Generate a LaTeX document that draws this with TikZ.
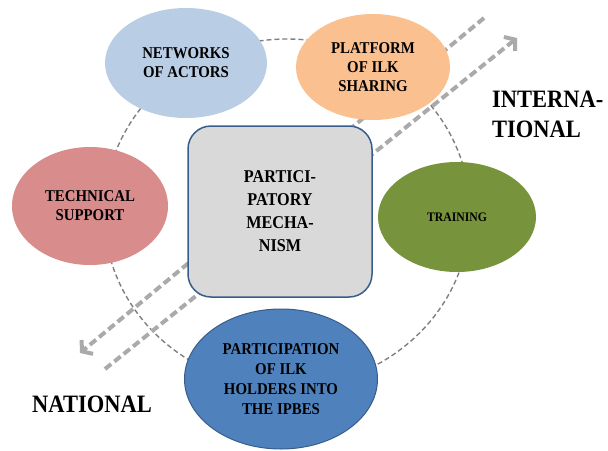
\documentclass[tikz,border=0pt]{standalone}
\usepackage{fontspec}
\setmainfont{Liberation Serif}[FakeStretch=0.9]
\usetikzlibrary{arrows.meta,shapes.geometric}

\definecolor{netblue}{RGB}{185,205,229}
\definecolor{platorange}{RGB}{250,192,144}
\definecolor{techpink}{RGB}{217,140,140}
\definecolor{traingreen}{RGB}{119,147,60}
\definecolor{partblue}{RGB}{79,129,189}
\definecolor{partedge}{RGB}{56,93,138}
\definecolor{boxgray}{RGB}{217,217,217}
\definecolor{ringgray}{RGB}{128,128,128}
\definecolor{flowgray}{RGB}{170,170,170}

\begin{document}
\begin{tikzpicture}[x=1pt, y=-1pt,
  bubble/.style={ellipse,inner sep=0pt,align=center,
    font=\fontsize{16.5}{19}\selectfont\bfseries},
  ring/.style={draw=ringgray,line width=1.4pt,dash pattern=on 5pt off 3pt},
  flow/.style={draw=flowgray,line width=4pt,dash pattern=on 8pt off 4pt,
    -{Straight Barb[length=7pt,width=18pt]}},
  level/.style={inner sep=0pt,align=left,font=\fontsize{25}{30}\selectfont\bfseries}]
  \useasboundingbox (0,0) rectangle (608,450);

  % dashed ring behind everything
  \coordinate (ctr) at (287,213);
  \draw[ring] (ctr) ellipse [x radius=183pt, y radius=174pt];

  % national <-> international flows
  \coordinate (a1) at (484,18);
  \coordinate (a2) at (80,353);
  \coordinate (b1) at (105,369);
  \coordinate (b2) at (517,38);
  \draw[flow] (a1) -- (a2);
  \draw[flow] (b1) -- (b2);

  \node[bubble,fill=netblue,minimum width=162pt,minimum height=110pt] (net) at (186,63) {NETWORKS\\OF ACTORS};
  \node[bubble,fill=platorange,minimum width=154pt,minimum height=106pt] (plat) at (373,67) {PLATFORM\\OF ILK\\SHARING};
  \node[bubble,fill=techpink,minimum width=156pt,minimum height=118pt] (tech) at (90,206) {TECHNICAL\\SUPPORT};
  \node[bubble,fill=traingreen,minimum width=158pt,minimum height=110pt,
    font=\fontsize{13}{16}\selectfont\bfseries] (train) at (457,217) {TRAINING};
  \node[bubble,fill=partblue,draw=partedge,line width=1pt,minimum width=193pt,minimum height=140pt,
    font=\fontsize{16.5}{20}\selectfont\bfseries] (part) at (281,379) {PARTICIPATION\\OF ILK\\HOLDERS INTO\\THE IPBES};

  \node[rectangle,rounded corners=23pt,fill=boxgray,draw=partedge,line width=1.5pt,
    minimum width=184pt,minimum height=171pt,align=center,
    font=\fontsize{18}{23}\selectfont\bfseries] (mech) at (280,211.5) {PARTICI-\\PATORY\\MECHA-\\NISM};

  \node[level,anchor=west] (intl) at (492,114.5) {INTERNA-\\TIONAL};
  \node[level] (natl) at (92,404) {NATIONAL};
\end{tikzpicture}
\end{document}
